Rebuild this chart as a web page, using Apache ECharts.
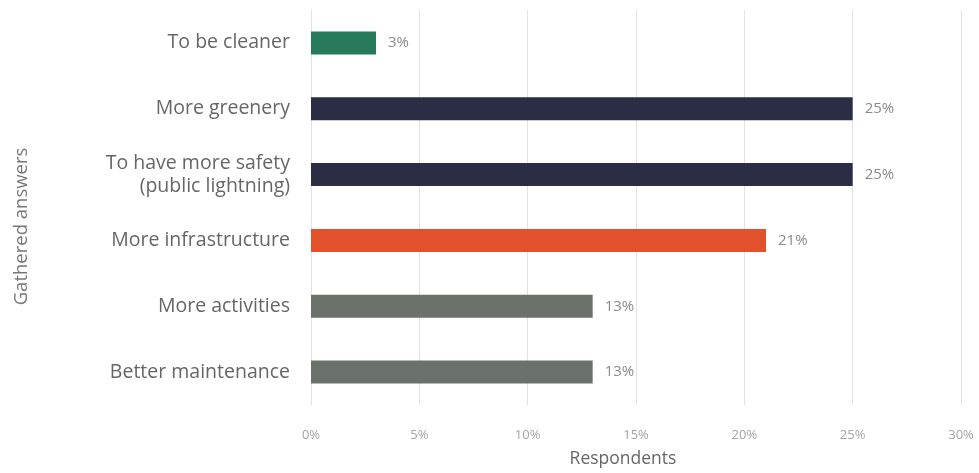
<!DOCTYPE html>
<html>
<head>
<meta charset="utf-8">
<script src="https://cdn.jsdelivr.net/npm/echarts@6/dist/echarts.min.js"></script>
<style>
html,body{margin:0;padding:0;background:#fff;}
#chart{width:979px;height:473px;}
</style>
</head>
<body>
<div id="chart"></div>
<script>
// Answers, listed bottom to top as drawn on the category axis
const categories = [
  'Better maintenance',
  'More activities',
  'More infrastructure',
  'To have more safety\n(public lightning)',
  'More greenery',
  'To be cleaner'
];
const values = [13, 13, 21, 25, 25, 3];
const barColors = ['#6b716b', '#6b716b', '#e0512c', '#2b2d44', '#2b2d44', '#277a5c'];
const xTicks = [0, 5, 10, 15, 20, 25, 30];

const chart = echarts.init(document.getElementById('chart'));
chart.setOption({
  animation: false,
  backgroundColor: '#ffffff',
  textStyle: { fontFamily: 'Open Sans' },
  grid: { left: 311, right: 18, top: 10, bottom: 67, containLabel: false },
  xAxis: {
    type: 'value',
    min: xTicks[0],
    max: xTicks[xTicks.length - 1],
    interval: 5,
    name: 'Respondents',
    nameLocation: 'middle',
    nameGap: 45,
    nameTextStyle: { color: '#666', fontSize: 17.5, padding: [0, 26, 0, 0] },
    axisLine: { show: false },
    axisTick: { show: false },
    axisLabel: { color: '#a4a4a4', fontSize: 13, margin: 24, formatter: v => v + '%' },
    splitLine: { show: true, lineStyle: { color: '#e2e2e2', width: 1 } }
  },
  yAxis: {
    type: 'category',
    data: categories,
    name: 'Gathered answers',
    nameLocation: 'middle',
    nameGap: 280,
    nameRotate: 90,
    nameTextStyle: { color: '#777', fontSize: 18.5, padding: [0, 38, 0, 0] },
    axisLine: { show: true, lineStyle: { color: '#e2e2e2' } },
    axisTick: { show: false },
    axisLabel: { color: '#666', fontSize: 19.5, margin: 21, lineHeight: 23, align: 'right' },
    splitLine: { show: false }
  },
  series: [{
    type: 'bar',
    barWidth: 23,
    data: values.map((v, i) => ({ value: v, itemStyle: { color: barColors[i] } })),
    label: {
      show: true,
      position: 'right',
      distance: 12,
      color: '#8a8a8a',
      fontSize: 15,
      formatter: p => p.value + '%'
    }
  }]
});
</script>
</body>
</html>
